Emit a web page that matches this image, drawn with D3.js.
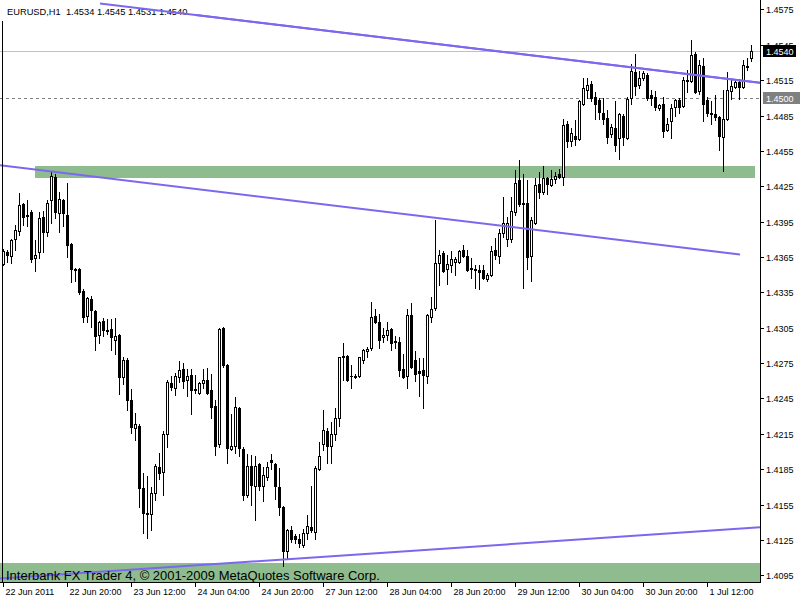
<!DOCTYPE html>
<html><head><meta charset="utf-8">
<script src="https://cdn.jsdelivr.net/npm/d3@7"></script>
<style>body{margin:0;background:#fff;} svg{display:block;}</style>
</head><body><svg id="c" width="800" height="600"></svg>
<script>
// ---- DATA (EURUSD H1, bar 0 = 22 Jun 2011 04:00) ----
const opens = [
1.4359,1.4369,1.4366,1.4380,1.4387,1.4410,1.4401,1.4403,1.4364,1.4369,
1.4399,1.4386,1.4413,1.4433,1.4402,1.4413,1.4401,1.4376,1.4355,1.4355,
1.4336,1.4315,1.4329,1.4319,1.4299,1.4311,1.4303,1.4304,1.4295,1.4299,
1.4263,1.4278,1.4244,1.4220,1.4222,1.4169,1.4148,1.4147,1.4165,1.4187,
1.4183,1.4215,1.4258,1.4254,1.4263,1.4270,1.4261,1.4265,1.4253,1.4250,
1.4258,1.4261,1.4252,1.4239,1.4206,1.4305,1.4273,1.4202,1.4205,1.4237,
1.4202,1.4163,1.4188,1.4171,1.4189,1.4171,1.4178,1.4193,1.4189,1.4170,
1.4153,1.4116,1.4133,1.4128,1.4126,1.4121,1.4131,1.4136,1.4132,1.4185,
1.4206,1.4217,1.4205,1.4215,1.4228,1.4280,1.4281,1.4264,1.4264,1.4264,
1.4278,1.4285,1.4288,1.4315,1.4310,1.4297,1.4299,1.4304,1.4294,1.4293,
1.4270,1.4264,1.4316,1.4278,1.4268,1.4269,1.4264,1.4314,1.4322,1.4360,
1.4368,1.4355,1.4358,1.4361,1.4361,1.4371,1.4366,1.4356,1.4355,1.4354,
1.4354,1.4346,1.4350,1.4371,1.4366,1.4385,1.4380,1.4380,1.4403,1.4430,
1.4411,1.4411,1.4366,1.4394,1.4427,1.4420,1.4432,1.4426,1.4431,1.4435,
1.4433,1.4478,1.4463,1.4468,1.4465,1.4495,1.4507,1.4512,1.4501,1.4498,
1.4487,1.4483,1.4469,1.4474,1.4466,1.4485,1.4466,1.4500,1.4522,1.4511,
1.4517,1.4519,1.4502,1.4501,1.4491,1.4495,1.4473,1.4480,1.4492,1.4498,
1.4493,1.4515,1.4514,1.4537,1.4506,1.4527,1.4498,1.4487,1.4486,1.4484,
1.4467,1.4482,1.4506,1.4509,1.4513,1.4509,1.4527,1.4534];
const highs = [
1.4372,1.4371,1.4380,1.4392,1.4419,1.4411,1.4413,1.4405,1.4379,1.4403,
1.4404,1.4413,1.4437,1.4435,1.4420,1.4414,1.4428,1.4377,1.4356,1.4356,
1.4338,1.4331,1.4332,1.4320,1.4311,1.4313,1.4312,1.4312,1.4313,1.4300,
1.4280,1.4279,1.4253,1.4233,1.4223,1.4182,1.4179,1.4170,1.4189,1.4199,
1.4217,1.4261,1.4264,1.4267,1.4277,1.4275,1.4270,1.4270,1.4265,1.4259,
1.4270,1.4271,1.4266,1.4244,1.4305,1.4306,1.4274,1.4232,1.4246,1.4238,
1.4204,1.4198,1.4197,1.4196,1.4190,1.4187,1.4191,1.4198,1.4190,1.4186,
1.4154,1.4134,1.4137,1.4130,1.4130,1.4134,1.4146,1.4171,1.4188,1.4208,
1.4235,1.4220,1.4225,1.4237,1.4280,1.4292,1.4282,1.4273,1.4266,1.4280,
1.4287,1.4289,1.4327,1.4321,1.4317,1.4305,1.4310,1.4305,1.4298,1.4297,
1.4283,1.4321,1.4326,1.4285,1.4279,1.4279,1.4317,1.4331,1.4396,1.4371,
1.4370,1.4367,1.4370,1.4365,1.4371,1.4375,1.4371,1.4364,1.4358,1.4358,
1.4358,1.4351,1.4374,1.4381,1.4389,1.4416,1.4399,1.4416,1.4439,1.4447,
1.4435,1.4430,1.4399,1.4432,1.4437,1.4442,1.4433,1.4439,1.4437,1.4440,
1.4482,1.4480,1.4474,1.4481,1.4498,1.4517,1.4517,1.4514,1.4505,1.4500,
1.4500,1.4490,1.4478,1.4497,1.4487,1.4486,1.4501,1.4529,1.4537,1.4523,
1.4523,1.4521,1.4507,1.4506,1.4495,1.4501,1.4483,1.4495,1.4499,1.4500,
1.4518,1.4524,1.4549,1.4539,1.4532,1.4534,1.4501,1.4497,1.4502,1.4485,
1.4507,1.4522,1.4516,1.4514,1.4516,1.4532,1.4534,1.4545];
const lows = [
1.4358,1.4361,1.4360,1.4371,1.4384,1.4392,1.4391,1.4361,1.4353,1.4364,
1.4369,1.4383,1.4394,1.4398,1.4386,1.4391,1.4365,1.4344,1.4345,1.4334,
1.4310,1.4310,1.4306,1.4286,1.4292,1.4298,1.4300,1.4286,1.4283,1.4249,
1.4257,1.4235,1.4216,1.4210,1.4153,1.4131,1.4127,1.4133,1.4159,1.4177,
1.4163,1.4204,1.4252,1.4248,1.4259,1.4254,1.4247,1.4232,1.4250,1.4249,
1.4254,1.4249,1.4228,1.4197,1.4204,1.4272,1.4190,1.4201,1.4199,1.4196,
1.4159,1.4161,1.4155,1.4142,1.4167,1.4158,1.4176,1.4185,1.4160,1.4146,
1.4103,1.4109,1.4123,1.4122,1.4119,1.4119,1.4126,1.4132,1.4126,1.4184,
1.4201,1.4190,1.4190,1.4210,1.4222,1.4261,1.4260,1.4254,1.4262,1.4263,
1.4275,1.4280,1.4286,1.4309,1.4288,1.4293,1.4295,1.4286,1.4288,1.4264,
1.4262,1.4254,1.4271,1.4260,1.4247,1.4237,1.4258,1.4310,1.4320,1.4341,
1.4352,1.4342,1.4352,1.4350,1.4360,1.4365,1.4353,1.4347,1.4339,1.4338,
1.4346,1.4345,1.4349,1.4363,1.4360,1.4382,1.4374,1.4378,1.4401,1.4408,
1.4339,1.4355,1.4345,1.4393,1.4415,1.4418,1.4418,1.4425,1.4428,1.4432,
1.4426,1.4458,1.4459,1.4460,1.4464,1.4494,1.4500,1.4497,1.4482,1.4482,
1.4478,1.4462,1.4467,1.4455,1.4448,1.4460,1.4465,1.4495,1.4502,1.4508,
1.4515,1.4498,1.4494,1.4490,1.4490,1.4467,1.4472,1.4466,1.4485,1.4487,
1.4492,1.4505,1.4513,1.4504,1.4503,1.4480,1.4485,1.4478,1.4481,1.4456,
1.4438,1.4481,1.4499,1.4508,1.4499,1.4508,1.4524,1.4531];
const closes = [
1.4370,1.4367,1.4379,1.4388,1.4409,1.4399,1.4400,1.4363,1.4367,1.4398,
1.4386,1.4411,1.4434,1.4403,1.4414,1.4402,1.4375,1.4355,1.4354,1.4335,
1.4314,1.4330,1.4320,1.4298,1.4310,1.4303,1.4302,1.4297,1.4298,1.4263,
1.4278,1.4244,1.4221,1.4223,1.4169,1.4148,1.4147,1.4165,1.4188,1.4182,
1.4215,1.4259,1.4255,1.4264,1.4269,1.4260,1.4264,1.4252,1.4252,1.4258,
1.4261,1.4250,1.4238,1.4205,1.4304,1.4273,1.4203,1.4205,1.4238,1.4203,
1.4163,1.4188,1.4172,1.4188,1.4171,1.4180,1.4187,1.4191,1.4171,1.4153,
1.4116,1.4133,1.4126,1.4126,1.4122,1.4131,1.4137,1.4133,1.4186,1.4196,
1.4218,1.4205,1.4215,1.4228,1.4280,1.4281,1.4261,1.4264,1.4263,1.4280,
1.4286,1.4287,1.4314,1.4310,1.4295,1.4299,1.4303,1.4292,1.4293,1.4269,
1.4263,1.4316,1.4272,1.4266,1.4267,1.4265,1.4316,1.4321,1.4360,1.4367,
1.4353,1.4359,1.4363,1.4363,1.4370,1.4366,1.4354,1.4355,1.4354,1.4352,
1.4347,1.4350,1.4370,1.4367,1.4385,1.4394,1.4394,1.4404,1.4428,1.4410,
1.4410,1.4365,1.4396,1.4426,1.4420,1.4432,1.4427,1.4431,1.4434,1.4433,
1.4477,1.4463,1.4470,1.4465,1.4497,1.4508,1.4511,1.4500,1.4495,1.4488,
1.4482,1.4467,1.4475,1.4460,1.4486,1.4467,1.4499,1.4523,1.4510,1.4517,
1.4521,1.4500,1.4500,1.4492,1.4494,1.4472,1.4478,1.4491,1.4498,1.4492,
1.4515,1.4514,1.4536,1.4505,1.4528,1.4495,1.4487,1.4486,1.4484,1.4468,
1.4482,1.4507,1.4510,1.4513,1.4509,1.4528,1.4526,1.4540];

const xTickBars   = [0,16,32,48,64,80,96,112,128,144,160,176];
const xTickLabels = ["22 Jun 2011","22 Jun 20:00","23 Jun 12:00","24 Jun 04:00","24 Jun 20:00",
                     "27 Jun 12:00","28 Jun 04:00","28 Jun 20:00","29 Jun 12:00","30 Jun 04:00",
                     "30 Jun 20:00","1 Jul 12:00"];
const yTicks = [1.4095,1.4125,1.4155,1.4185,1.4215,1.4245,1.4275,1.4305,1.4335,1.4365,
                1.4395,1.4425,1.4455,1.4485,1.4515,1.4545,1.4575];
const titleText = "EURUSD,H1  1.4534 1.4545 1.4531 1.4540";
const copyrightText = "Interbank FX Trader 4, \u00A9 2001-2009 MetaQuotes Software Corp.";
const bidPrice = 1.4540;
const hLinePrice = 1.4500;
// trend lines: [bar1, price1, bar2, price2]
const trendUpper  = [24.25, 1.4580, 189.25, 1.45128];
const trendMiddle = [-0.75, 1.44428, 184.25, 1.43671];
const trendLower  = [-0.75, 1.40922, 189.25, 1.41357];
// rectangles: [bar1, priceTop, bar2, priceBottom]
const zoneUpper = [8, 1.4442, 188, 1.4432];
const zoneLower = [-5, 1.41052, 200, 1.4080];

// ---- DRAW ----
const W = 760, H = 582;
const svg = d3.select("#c");
const x = d3.scaleLinear().domain([0, 187]).range([3, 751]);
const y = d3.scaleLinear().domain([1.4095, 1.4575]).range([575.3, 9.4]);
const FONT = "'Liberation Sans', Arial, sans-serif";
const purple = "#7B68EE", green = "#8FBC8F";

svg.append("rect").attr("width", 800).attr("height", 600).attr("fill", "#fff");
svg.append("clipPath").attr("id", "clip").append("rect").attr("x", 0).attr("y", 0).attr("width", W).attr("height", H);
const plot = svg.append("g").attr("clip-path", "url(#clip)");

// rectangles
[zoneUpper, zoneLower].forEach(z => {
  plot.append("rect")
    .attr("x", Math.round(x(z[0]))).attr("y", Math.round(y(z[1])))
    .attr("width", Math.round(x(z[2])) - Math.round(x(z[0])))
    .attr("height", Math.round(y(z[3])) - Math.round(y(z[1])))
    .attr("fill", green);
});

// horizontal lines
plot.append("line").attr("x1", 0).attr("x2", W)
  .attr("y1", Math.round(y(bidPrice)) + 0.5).attr("y2", Math.round(y(bidPrice)) + 0.5)
  .attr("stroke", "#C0C0C0").attr("stroke-width", 1);
plot.append("line").attr("x1", 0).attr("x2", W)
  .attr("y1", Math.round(y(hLinePrice)) + 0.5).attr("y2", Math.round(y(hLinePrice)) + 0.5)
  .attr("stroke", "#808080").attr("stroke-width", 1).attr("stroke-dasharray", "3,3");

// candles
const bars = d3.range(opens.length).map(i => ({i, o: opens[i], h: highs[i], l: lows[i], c: closes[i]}));
const cg = plot.append("g").attr("shape-rendering", "crispEdges");
bars.forEach(d => {
  const cx = Math.round(x(d.i));
  cg.append("line").attr("x1", cx + 0.5).attr("x2", cx + 0.5)
    .attr("y1", Math.round(y(d.h))).attr("y2", Math.round(y(d.l)) + 1)
    .attr("stroke", "#000").attr("stroke-width", 1);
  const top = Math.round(y(Math.max(d.o, d.c)));
  const bot = Math.round(y(Math.min(d.o, d.c)));
  if (bot - top < 1) {
    cg.append("line").attr("x1", cx - 1).attr("x2", cx + 2)
      .attr("y1", top + 0.5).attr("y2", top + 0.5).attr("stroke", "#000");
  } else {
    cg.append("rect").attr("x", cx - 0.5).attr("y", top + 0.5)
      .attr("width", 2).attr("height", bot - top)
      .attr("fill", d.c >= d.o ? "#fff" : "#000").attr("stroke", "#000").attr("stroke-width", 1);
  }
});

// frame
svg.append("line").attr("x1", 2.5).attr("x2", 2.5).attr("y1", 0).attr("y2", H).attr("stroke", "#000");
svg.append("line").attr("x1", W + 0.5).attr("x2", W + 0.5).attr("y1", 0).attr("y2", H + 1).attr("stroke", "#000");
svg.append("line").attr("x1", 0).attr("x2", W + 1).attr("y1", H + 0.5).attr("y2", H + 0.5).attr("stroke", "#000");

// title box
svg.append("rect").attr("x", 0).attr("y", 0).attr("width", 196).attr("height", 21).attr("fill", "#fff");
svg.append("text").attr("x", 7).attr("y", 14.5).attr("font-family", FONT).attr("font-size", 9.3)
  .attr("fill", "#000").attr("xml:space", "preserve").style("white-space", "pre").text(titleText);

// trend lines
[trendUpper, trendMiddle, trendLower].forEach(t => {
  plot.append("line")
    .attr("x1", x(t[0])).attr("y1", y(t[1]))
    .attr("x2", x(t[2])).attr("y2", y(t[3]))
    .attr("stroke", purple).attr("stroke-width", 2);
});
// bring trend lines above title: re-append into svg with clip
const tl = svg.append("g").attr("clip-path", "url(#clip)");
[trendUpper].forEach(t => {
  tl.append("line")
    .attr("x1", x(t[0])).attr("y1", y(t[1]))
    .attr("x2", x(t[2])).attr("y2", y(t[3]))
    .attr("stroke", purple).attr("stroke-width", 2);
});

// y axis
const ya = svg.append("g");
yTicks.forEach(t => {
  const yy = Math.round(y(t)) + 0.5;
  ya.append("line").attr("x1", W).attr("x2", W + 4).attr("y1", yy).attr("y2", yy).attr("stroke", "#000");
  ya.append("text").attr("x", W + 6).attr("y", yy + 3.5).attr("font-family", FONT).attr("font-size", 9)
    .attr("fill", "#000").text(d3.format(".4f")(t));
});
// price labels
function priceBox(p, bg, w) {
  const yy = Math.round(y(p));
  svg.append("rect").attr("x", W + 3).attr("y", yy - 6).attr("width", w).attr("height", 12).attr("fill", bg);
  svg.append("text").attr("x", W + 6).attr("y", yy + 4).attr("font-family", FONT).attr("font-size", 9)
    .attr("fill", "#fff").text(d3.format(".4f")(p));
}
priceBox(bidPrice, "#000", 33);
priceBox(hLinePrice, "#808080", 37);

// x axis
const xa = svg.append("g");
xTickBars.forEach((b, k) => {
  const xx = Math.round(x(b)) + 0.5;
  xa.append("line").attr("x1", xx).attr("x2", xx).attr("y1", H).attr("y2", H + 5).attr("stroke", "#000");
  xa.append("text").attr("x", xx + 2).attr("y", 595).attr("font-family", FONT).attr("font-size", 9)
    .attr("fill", "#000").text(xTickLabels[k]);
});

// copyright
svg.append("text").attr("x", 6).attr("y", 580).attr("font-family", FONT).attr("font-size", 13)
  .attr("fill", "#000").text(copyrightText);
</script>
</body></html>
